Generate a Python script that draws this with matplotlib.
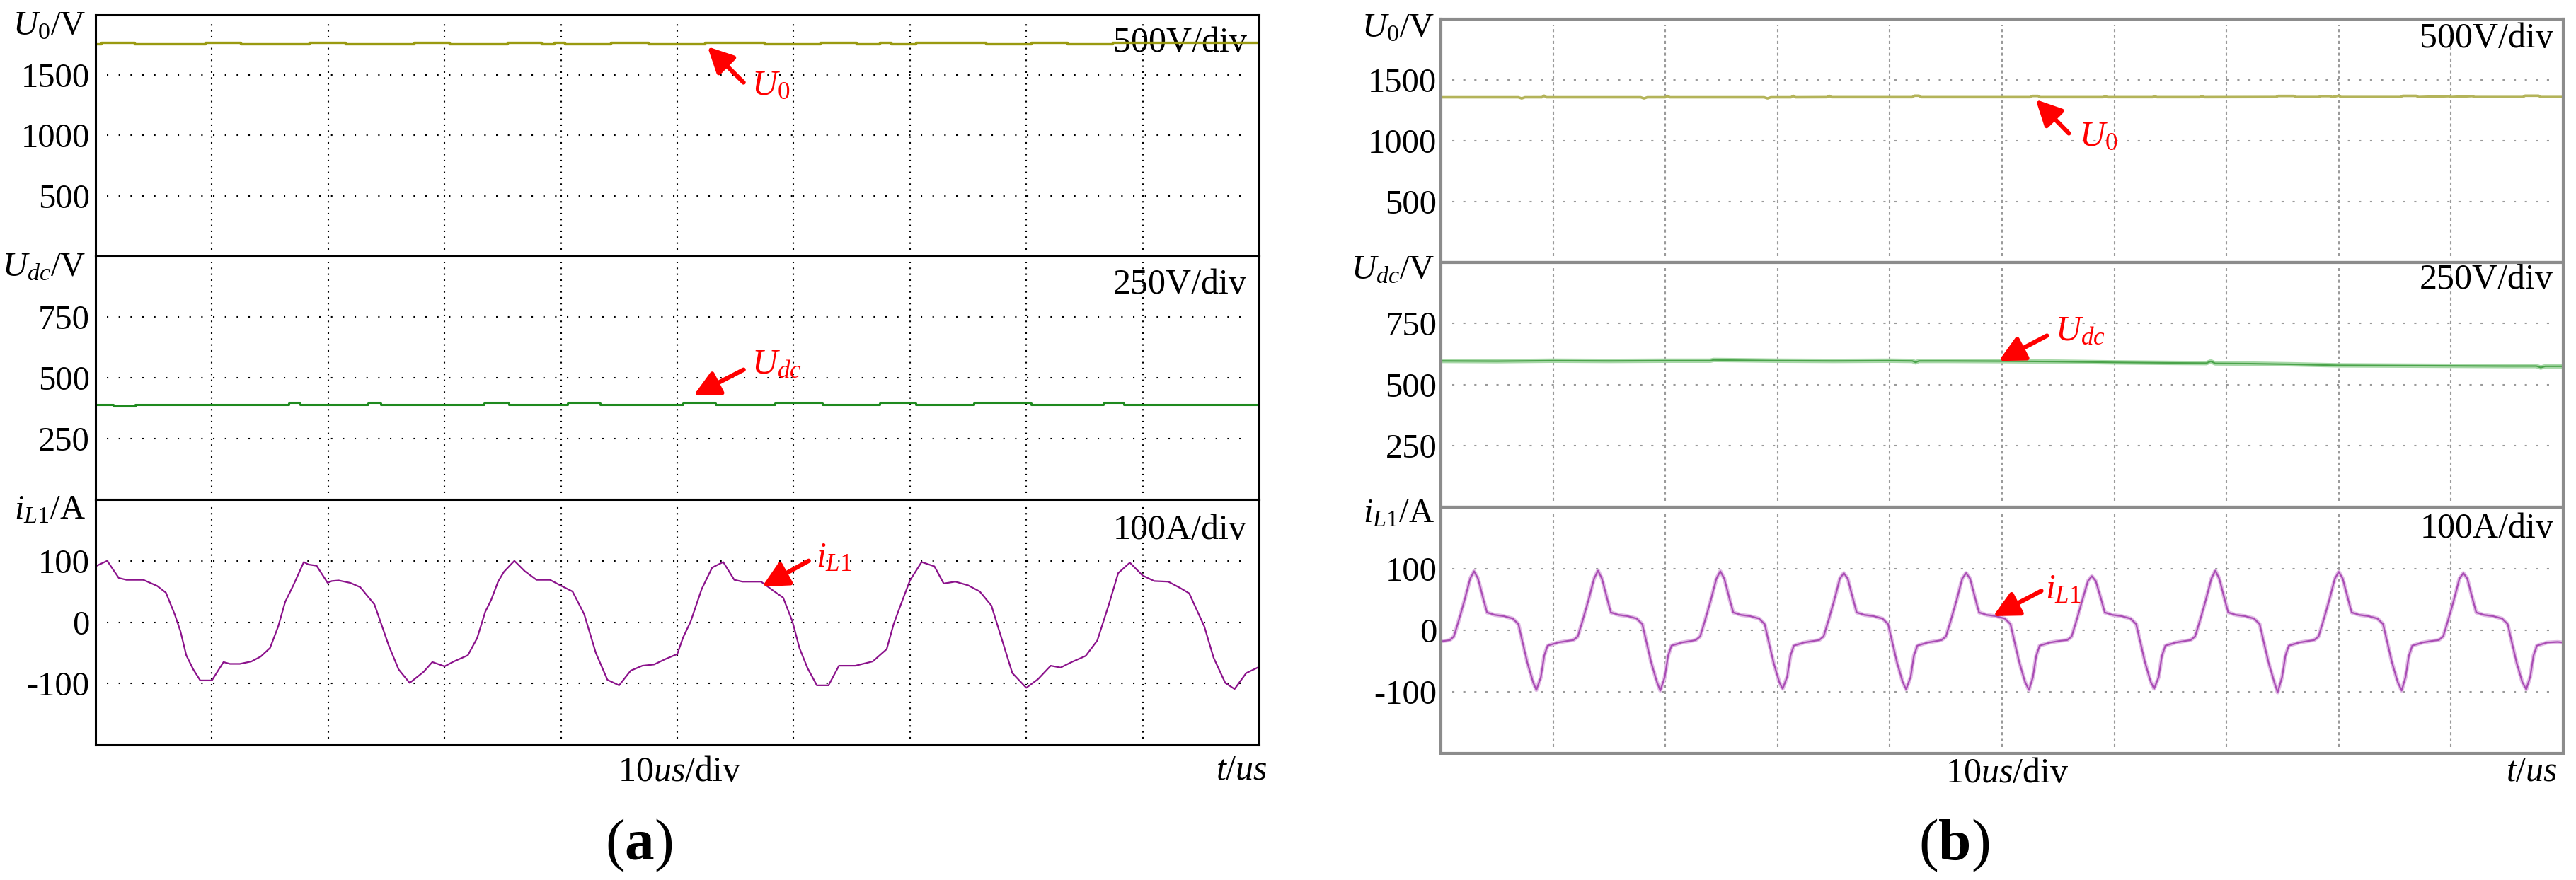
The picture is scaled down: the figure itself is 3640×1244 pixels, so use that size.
import matplotlib
matplotlib.use('Agg')
import matplotlib.pyplot as plt

plt.rcParams['font.family'] = ['Liberation Serif', 'DejaVu Serif']
plt.rcParams['mathtext.fontset'] = 'custom'
plt.rcParams['mathtext.rm'] = 'Liberation Serif'
plt.rcParams['mathtext.it'] = 'Liberation Serif:italic'
plt.rcParams['mathtext.bf'] = 'Liberation Serif:bold'

W, H, DPI = 3641, 1244, 100

#%% data (t in us)
# (a) output voltage, two-level quantised trace (steps-post)
u0a_t = [0, 0.5, 3.35, 9.4, 12.5, 18.4, 21.5, 27.4, 30.4, 35.4, 38.3, 39.4, 40.3,
         44.3, 47.5, 52.4, 57.5, 62.3, 65.4, 67.4, 68.4, 70.5, 76.5, 80.4, 83.5, 87.4, 100]
u0a_v = [1757, 1770, 1757, 1770, 1757, 1770, 1757, 1770, 1757, 1770, 1757, 1770, 1757,
         1770, 1757, 1770, 1757, 1770, 1757, 1770, 1757, 1770, 1757, 1770, 1757, 1770, 1770]
# (a) dc-link voltage
udca_t = [0, 1.5, 3.4, 16.6, 17.6, 23.4, 24.5, 33.4, 35.5, 40.6, 43.4, 50.5, 53.3,
          58.4, 62.5, 67.4, 70.5, 75.5, 80.4, 86.6, 88.4, 100]
udca_v = [390, 384, 390, 398, 390, 398, 390, 398, 390, 398, 390, 398, 390,
          398, 390, 398, 390, 398, 390, 398, 390, 390]
# (a) inductor current
il1a_t = [0, 1.0, 2.0, 2.65, 4.1, 5.3, 6.05, 6.8, 7.3, 7.8, 8.4, 9.0, 10.0, 11.0, 11.55,
          12.4, 13.4, 14.2, 15.0, 15.7, 16.3, 17.0, 17.9, 18.3, 19.0, 19.95, 20.3, 20.9,
          21.9, 22.75, 23.97, 24.56, 25.2, 26.05, 27.0, 28.2, 28.95, 30.0, 30.8, 32.0,
          32.8, 33.5, 34.0, 34.6, 35.1, 36.0, 36.9, 37.9, 39.06, 40.05, 41.0, 42.0, 43.0,
          44.0, 45.0, 46.0, 47.0, 48.0, 49.0, 50.0, 50.5, 51.15, 52.1, 53.0, 53.95, 54.9,
          55.6, 57.2, 58.2, 59.1, 59.9, 60.5, 61.2, 62.0, 63.0, 63.9, 65.3, 66.8, 68.0,
          68.6, 69.3, 70.0, 71.0, 72.1, 72.9, 73.9, 75.0, 76.0, 77.0, 77.8, 78.8, 80.0,
          81.0, 82.1, 82.95, 83.9, 85.1, 86.1, 87.1, 87.9, 88.9, 90.0, 91.0, 92.2, 93.2,
          94.0, 95.3, 96.1, 97.1, 97.9, 98.9, 100.0]
il1a_i = [91, 100, 72, 69, 69, 59, 48, 13, -15, -54, -77, -95, -95, -65, -68,
          -68, -64, -56, -42, -7, 33, 60, 98, 94, 92, 64, 67, 68,
          64, 57, 29, -3, -38, -77, -99, -81, -65, -72, -64, -54,
          -26, 17, 36, 66, 82, 100, 83, 69, 69, 59, 50, 13, -50,
          -94, -103, -79, -71, -69, -60, -52, -25, 1, 54, 89, 98, 69,
          66, 66, 52, 40, 1, -42, -75, -103, -103, -71, -71, -64, -44,
          -3, 33, 68, 98, 91, 63, 66, 60, 50, 27, -22, -83, -107,
          -93, -71, -74, -65, -55, -30, 29, 80, 97, 76, 67, 66, 56,
          47, -7, -58, -99, -109, -83, -73]

# (b) output voltage
u0b_t = [0, 6.9, 7.2, 7.5, 9.0, 9.2, 9.4, 17.8, 18.1, 18.4, 20.0, 20.2, 20.4, 28.8, 29.1,
         29.4, 31.2, 31.4, 31.6, 34.4, 34.6, 34.8, 42.0, 42.2, 42.6, 42.8, 52.5, 52.7,
         53.2, 53.4, 59.0, 59.2, 59.4, 63.4, 63.6, 63.8, 67.6, 67.8, 68.0, 74.4, 74.6,
         76.0, 76.2, 78.2, 78.4, 79.2, 79.4, 80.0, 80.2, 85.5, 85.7, 86.9, 87.1, 89.8,
         90.0, 91.9, 92.1, 96.4, 96.6, 97.8, 98.0, 100]
u0b_v = [1355, 1355, 1346, 1355, 1355, 1368, 1355, 1355, 1346, 1355, 1355, 1366, 1355, 1355, 1346,
         1355, 1355, 1367, 1355, 1356, 1367, 1356, 1356, 1368, 1368, 1356, 1356, 1366,
         1366, 1356, 1356, 1364, 1356, 1356, 1364, 1356, 1356, 1365, 1356, 1357, 1366,
         1366, 1357, 1357, 1365, 1365, 1357, 1368, 1357, 1357, 1367, 1367, 1357, 1364,
         1357, 1365, 1357, 1357, 1368, 1368, 1357, 1357]
# (b) dc-link voltage, slowly sagging
udcb_t = [0, 5, 10, 15, 20, 24.0, 24.3, 30, 35, 40, 42.0, 42.3, 42.6, 45, 50, 55, 60,
          65, 68.2, 68.6, 69.0, 72, 76, 80, 85, 90, 95, 97.6, 98.0, 98.4, 100]
udcb_v = [597, 596, 598, 597, 598, 598, 601, 598, 597, 598, 597, 591, 597, 597, 596, 594, 591,
          589, 588, 595, 587, 586, 583, 579, 578, 577, 576, 576, 570, 575, 575]
# (b) inductor current
il1b_t = [0, 0.8,
          1.16, 1.61, 2.11, 2.61, 2.96, 3.31, 3.81, 4.11, 4.81, 5.61, 6.41, 6.91, 7.21, 7.71, 8.21, 8.51, 8.91, 9.21, 9.51, 10.41, 11.36, 11.8,
          12.2, 12.65, 13.15, 13.65, 14.0, 14.35, 14.85, 15.15, 15.85, 16.65, 17.45, 17.95, 18.25, 18.75, 19.25, 19.55, 19.95, 20.25, 20.55, 21.45, 22.4, 22.7,
          23.1, 23.55, 24.05, 24.55, 24.9, 25.25, 25.75, 26.05, 26.75, 27.55, 28.35, 28.85, 29.15, 29.65, 30.15, 30.45, 30.85, 31.15, 31.45, 32.35, 33.3, 33.7,
          34.1, 34.55, 35.05, 35.55, 35.9, 36.25, 36.75, 37.05, 37.75, 38.55, 39.35, 39.85, 40.15, 40.65, 41.15, 41.45, 41.85, 42.15, 42.45, 43.35, 44.3, 44.6,
          45.0, 45.45, 45.95, 46.45, 46.8, 47.15, 47.65, 47.95, 48.65, 49.45, 50.25, 50.75, 51.05, 51.55, 52.05, 52.4, 52.75, 53.05, 53.35, 54.25, 55.2, 55.8,
          56.2, 56.65, 57.15, 57.65, 58.0, 58.35, 58.85, 59.15, 59.85, 60.65, 61.45, 61.95, 62.25, 62.75, 63.25, 63.55, 63.95, 64.25, 64.55, 65.45, 66.4, 66.8,
          67.2, 67.65, 68.15, 68.65, 69.0, 69.35, 69.85, 70.15, 70.85, 71.65, 72.45, 72.95, 73.25, 73.75, 74.25, 74.55, 74.95, 75.25, 75.55, 76.45, 77.4, 77.8,
          78.2, 78.65, 79.15, 79.65, 80.0, 80.35, 80.85, 81.15, 81.85, 82.65, 83.45, 83.95, 84.25, 84.75, 85.25, 85.6, 85.95, 86.25, 86.55, 87.45, 88.4, 88.9,
          89.3, 89.75, 90.25, 90.75, 91.1, 91.45, 91.95, 92.25, 92.95, 93.75, 94.55, 95.05, 95.35, 95.85, 96.35, 96.7, 97.05, 97.35, 97.65, 98.55, 99.5, 100.0]
il1b_i = [-18, -16,
          -10, 17, 49, 84, 96, 84, 49, 29, 25, 23, 19, 10, -14, -53, -84, -97, -76, -41, -25, -20, -17, -16,
          -10, 17, 49, 84, 97, 84, 49, 29, 25, 23, 19, 10, -14, -53, -84, -98, -76, -41, -25, -20, -17, -16,
          -10, 17, 49, 84, 96, 84, 49, 29, 25, 23, 19, 10, -14, -53, -84, -95, -76, -41, -25, -20, -17, -16,
          -10, 17, 49, 84, 93, 84, 49, 29, 25, 23, 19, 10, -14, -53, -84, -96, -76, -41, -25, -20, -17, -16,
          -10, 17, 49, 84, 93, 84, 49, 29, 25, 23, 19, 10, -14, -53, -84, -97, -76, -41, -25, -20, -17, -16,
          -10, 17, 49, 80, 88, 80, 49, 29, 25, 23, 19, 10, -14, -53, -84, -95, -76, -41, -25, -20, -17, -16,
          -10, 17, 49, 84, 97, 84, 49, 29, 25, 23, 19, 10, -14, -53, -84, -101, -76, -41, -25, -20, -17, -16,
          -10, 17, 49, 84, 95, 84, 49, 29, 25, 23, 19, 10, -14, -53, -84, -98, -76, -41, -25, -20, -17, -16,
          -10, 17, 49, 84, 93, 84, 49, 29, 25, 23, 19, 10, -14, -53, -84, -96, -76, -41, -25, -20, -19, -20]

# axis scales (4 div per channel) and labels
ylims = [(0, 2000), (0, 1000), (-200, 200)]
yticks = [[500, 1000, 1500], [250, 500, 750], [-100, 0, 100]]
ytick_labels = [['500', '1000', '1500'], ['250', '500', '750'], ['-100', '0', '100']]
ch_names = [r'$U_0$/V', r'$U_{dc}$/V', r'$i_{L1}$/A']
div_labels = ['500V/div', '250V/div', '100A/div']
tgrid = [10, 20, 30, 40, 50, 60, 70, 80, 90]

#%% figure
fg = plt.figure(figsize=(W / DPI, H / DPI), dpi=DPI)
fg.patch.set_facecolor('white')


def px_axes(x0, x1, y0, y1):
    return fg.add_axes([x0 / W, 1 - y1 / H, (x1 - x0) / W, (y1 - y0) / H])


def scope(left, right, rows, st):
    axs = []
    for k, (y0, y1) in enumerate(rows):
        ax = px_axes(left, right, y0, y1)
        ax.set_xlim(0, 100)
        ax.set_ylim(*ylims[k])
        ax.set_xticks([])
        ax.set_yticks(yticks[k])
        ax.set_yticklabels(ytick_labels[k])
        ax.tick_params(axis='y', length=0, pad=st['pad'], labelsize=35)
        for s in ax.spines.values():
            s.set_color(st['frame'])
            s.set_linewidth(st['frame_lw'])
            s.set_zorder(5)
        for t in tgrid:
            ax.axvline(t, ymin=0.025, ymax=0.975, color=st['grid'], lw=1.5,
                       ls=st['vls'], zorder=1)
        for v in yticks[k]:
            ax.axhline(v, xmin=0.01, xmax=0.99, color=st['grid'], lw=1.5,
                       ls=st['hls'], zorder=1)
        # channel name, top left outside the frame
        ax.annotate(ch_names[k], xy=(0, 1), xycoords='axes fraction',
                    xytext=(st['name_dx'], -st['name_dy'][k]), textcoords='offset pixels',
                    ha='right', va='baseline', fontsize=35)
        ax.annotate(div_labels[k], xy=(1, 1), xycoords='axes fraction',
                    xytext=(st['div_dx'], -st['div_dy'][k]), textcoords='offset pixels',
                    ha='right', va='baseline', fontsize=36)
        axs.append(ax)
    return axs


def pointer(ax, tip, tail, label, txy):
    ax.annotate('', xy=tip, xytext=tail,
                arrowprops=dict(arrowstyle='-|>', color='red', lw=4.5,
                                mutation_scale=55, shrinkA=0, shrinkB=0), zorder=6)
    ax.text(txy[0], txy[1], label, color='red', fontsize=36, ha='left', va='center', zorder=6)


style_a = dict(frame='black', frame_lw=2.2, grid='black', vls=(0, (1, 3)), hls=(0, (1, 7)),
               pad=6, name_dx=-14, name_dy=[29, 28, 27], div_dx=-17, div_dy=[52, 53, 56])
style_b = dict(frame='#8c8c8c', frame_lw=3.0, grid='#9a9a9a', vls=(0, (2, 2)), hls=(0, (1.5, 6)),
               pad=4, name_dx=-9, name_dy=[26, 24, 21], div_dx=-14, div_dy=[40, 37, 43])

#%% (a)
axa = scope(135, 1779, [(20.7, 362), (362, 706), (706, 1053)], style_a)
axa[0].plot(u0a_t, u0a_v, drawstyle='steps-post', color='#9a9a10', lw=2.4, zorder=3)
axa[1].plot(udca_t, udca_v, drawstyle='steps-post', color='#1f8a1f', lw=2.2, zorder=3)
axa[2].plot(il1a_t, il1a_i, color='#8b128b', lw=1.6, zorder=3)
pointer(axa[0], (52.6, 1735), (55.7, 1438), r'$U_0$', (56.4, 1410))
pointer(axa[1], (51.4, 427), (55.7, 533), r'$U_{dc}$', (56.4, 554))
pointer(axa[2], (57.3, 58), (61.3, 100), r'$i_{L1}$', (61.9, 104))

#%% (b)
axb = scope(2036, 3622, [(26.6, 370.6), (370.6, 717), (717, 1065)], style_b)
axb[0].plot(u0b_t, u0b_v, color='#b4b45a', lw=2.6, zorder=3)
axb[1].plot(udcb_t, udcb_v, color='#a8d8a8', lw=4.5, zorder=3)
axb[1].plot(udcb_t, udcb_v, color='#4aa34a', lw=1.5, zorder=3)
axb[2].plot(il1b_t, il1b_i, color='#e2bde6', lw=4.0, zorder=3)
axb[2].plot(il1b_t, il1b_i, color='#a94cb4', lw=1.6, zorder=3)
pointer(axb[0], (53.0, 1337), (55.95, 1059), r'$U_0$', (56.9, 1027))
pointer(axb[1], (49.7, 597), (54.0, 700), r'$U_{dc}$', (54.7, 717))
pointer(axb[2], (49.2, 23), (53.5, 64), r'$i_{L1}$', (53.85, 66))

#%% time-base captions and sub-figure tags
for xc, xr, yb in [(960, 1791, 1104), (2836, 3614, 1106)]:
    fg.text(xc / W, 1 - yb / H, r'10$us$/div', ha='center', va='baseline', fontsize=36)
    fg.text(xr / W, 1 - (yb - 2) / H, r'$t$/$us$', ha='right', va='baseline', fontsize=36)
cap_x = [903, 2761]
for xc, tag in zip(cap_x, ['a', 'b']):
    fg.text(xc / W, 1 - 1215 / H, r'($\mathbf{%s}$)' % tag, ha='center', va='baseline', fontsize=60)

fg.savefig('out.png', dpi=DPI, facecolor='white')
